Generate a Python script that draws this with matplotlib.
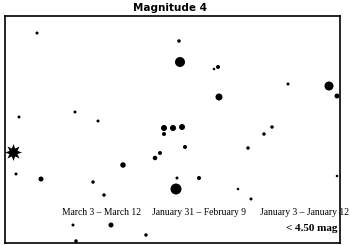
import numpy as np
import matplotlib.pyplot as plt

# star positions (pixel-like chart coordinates) and dot diameters
star_x = [37, 179, 180, 214, 218, 288, 329, 337, 219, 19, 75, 98,
          164, 173, 182, 164, 264, 272, 185, 160, 155, 248, 123, 16,
          41, 93, 104, 177, 176, 199, 238, 251, 337, 73, 111, 146, 76]
star_y = [33, 41, 62, 69, 67, 84, 86, 96, 97, 117, 112, 121,
          128, 128, 127, 134, 134, 127, 147, 153, 158, 148, 165, 174,
          179, 182, 195, 178, 189, 178, 189, 199, 176, 225, 225, 235, 241]
star_d = [3, 3.5, 10, 2.5, 4, 3, 9, 5, 7, 3, 3, 3,
          6, 6, 6, 4, 3.5, 3.5, 4, 4, 4.5, 3.5, 5.5, 3,
          5, 3.5, 3.5, 3, 11, 4, 2.5, 3, 2.5, 3, 5, 3.5, 3.5]

# bright object marked by the burst symbol
burst_x, burst_y = 13, 152

date_labels = ["March 3 \u2013 March 12", "January 31 \u2013 February 9",
               "January 3 \u2013 January 12"]
date_x = [101, 199, 305]
date_y = 212

fig = plt.figure(figsize=(3.5, 2.45), dpi=100)
ax = fig.add_axes([5/350, 2/245, 335/350, 227/245])
ax.set_xlim(5, 340)
ax.set_ylim(243, 16)
ax.set_xticks([])
ax.set_yticks([])
for sp in ax.spines.values():
    sp.set_linewidth(1.2)

sizes = (np.array(star_d) * 0.72) ** 2
ax.scatter(star_x, star_y, s=sizes, color='black', linewidths=0)
ax.scatter([burst_x], [burst_y], marker=(8, 1, 0), s=150, color='black',
           linewidths=0, clip_on=False, zorder=3)

for lab, x in zip(date_labels, date_x):
    ax.text(x, date_y, lab, ha='center', va='center', fontsize=6.9,
            family='Liberation Serif')
ax.text(337, 228, "< 4.50 mag", ha='right', va='center', fontsize=8,
        family='Liberation Serif', fontweight='bold')

fig.text(170/350, 1 - 8/245, "Magnitude 4", ha='center', va='center',
         fontsize=7.5, fontweight='bold')

plt.savefig('out.png', dpi=100)
